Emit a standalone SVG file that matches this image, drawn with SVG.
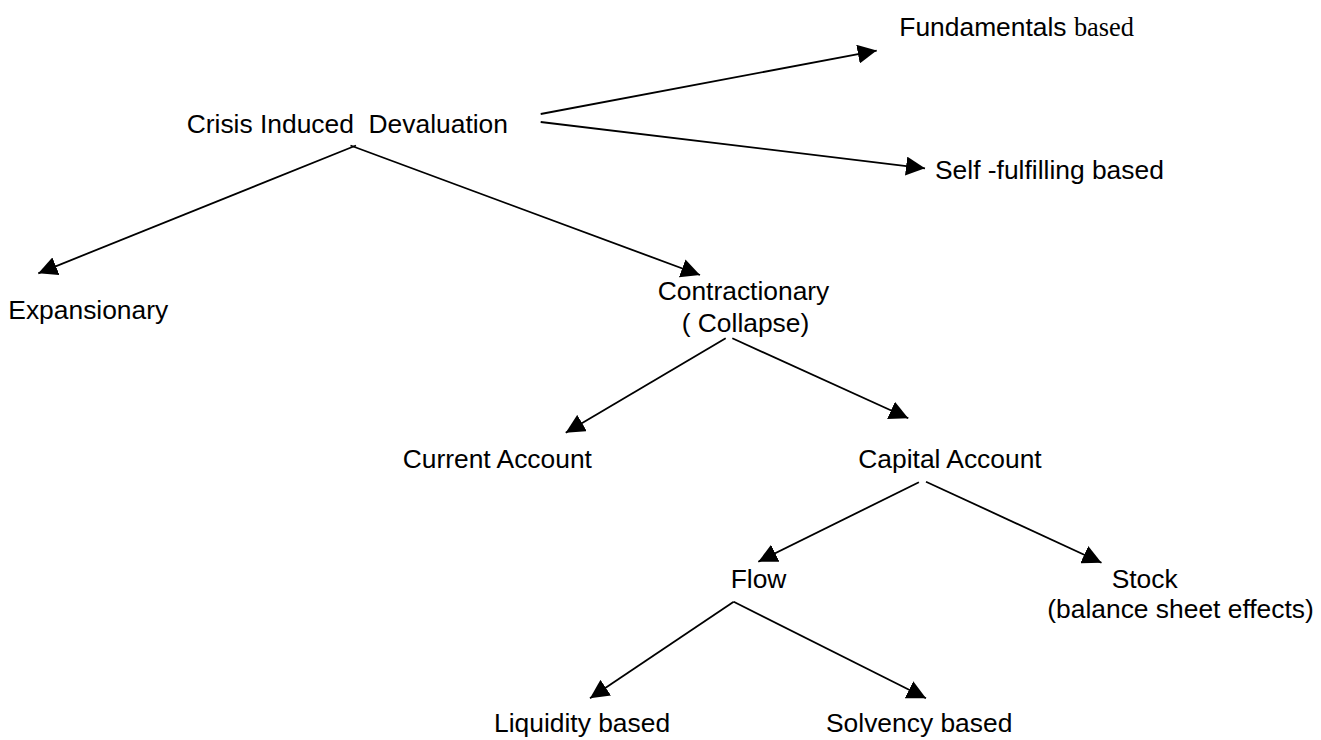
<svg xmlns="http://www.w3.org/2000/svg" width="1321" height="740" viewBox="0 0 1321 740">
<style>
text{font-family:"Liberation Sans",Arial,sans-serif;font-size:26.4px;fill:#000;white-space:pre}
.serif{font-family:"Liberation Serif","Times New Roman",serif}
.c{stroke:#000;stroke-width:1.8;fill:none;marker-end:url(#ah)}
</style>
<defs>
<marker id="ah" markerUnits="userSpaceOnUse" markerWidth="19" markerHeight="19" refX="19" refY="9.5" orient="auto" viewBox="0 0 19 19">
<path d="M0,0 L19,9.5 L0,19 z" fill="#000"/>
</marker>
</defs>
<rect width="1321" height="740" fill="#fff"/>
<g id="connectors">
<line class="c" x1="540.7" y1="114" x2="876.7" y2="50.6"/>
<line class="c" x1="540.7" y1="122" x2="925" y2="168.3"/>
<line class="c" x1="356" y1="145.5" x2="38.3" y2="273.3"/>
<line class="c" x1="350.5" y1="145.5" x2="700" y2="275"/>
<line class="c" x1="725.7" y1="338.3" x2="565.7" y2="432.7"/>
<line class="c" x1="732.3" y1="338.3" x2="908.3" y2="418.3"/>
<line class="c" x1="918.9" y1="482.2" x2="758.3" y2="561.7"/>
<line class="c" x1="926" y1="481.7" x2="1101.5" y2="562.7"/>
<line class="c" x1="733.7" y1="601.7" x2="590" y2="698.3"/>
<line class="c" x1="733.7" y1="601.7" x2="926" y2="698.3"/>
</g>
<g id="crisis"><text x="186.7" y="132.7" xml:space="preserve">Crisis Induced  Devaluation</text></g>
<g id="fundamentals"><text x="899.3" y="36">Fundamentals <tspan class="serif">based</tspan></text></g>
<g id="selffulfilling"><text x="935" y="179.3">Self -fulfilling based</text></g>
<g id="expansionary"><text x="8.3" y="319.3">Expansionary</text></g>
<g id="contractionary"><text x="657.7" y="300">Contractionary</text><text x="681.7" y="331.7">( Collapse)</text></g>
<g id="current"><text x="402.7" y="468.3">Current Account</text></g>
<g id="capital"><text x="858.3" y="468.3">Capital Account</text></g>
<g id="flow"><text x="730.7" y="588.3">Flow</text></g>
<g id="stock"><text x="1111.7" y="588.3">Stock</text><text x="1047.3" y="618.3">(balance sheet effects)</text></g>
<g id="liquidity"><text x="494" y="731.7">Liquidity based</text></g>
<g id="solvency"><text x="826" y="731.7">Solvency based</text></g>
</svg>
